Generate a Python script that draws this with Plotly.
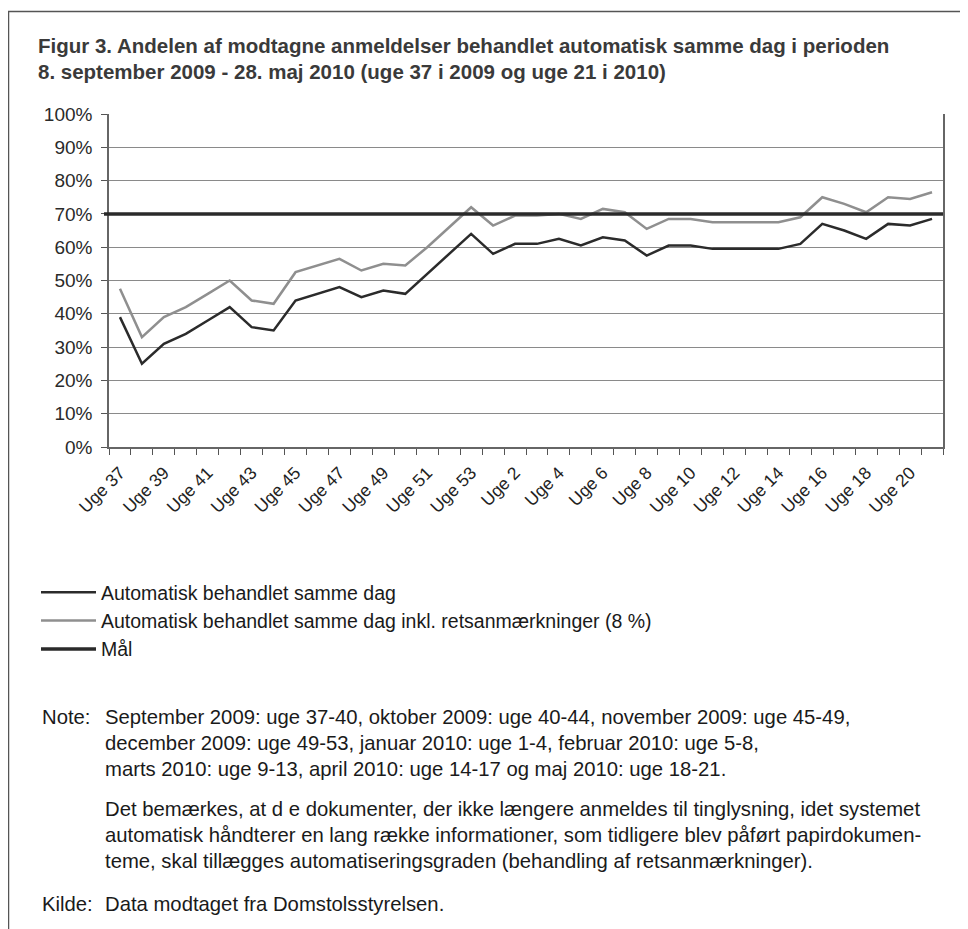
import plotly.graph_objects as go

# ---------------- data ----------------
weeks = ["Uge 37", "Uge 38", "Uge 39", "Uge 40", "Uge 41", "Uge 42", "Uge 43", "Uge 44",
         "Uge 45", "Uge 46", "Uge 47", "Uge 48", "Uge 49", "Uge 50", "Uge 51", "Uge 52",
         "Uge 53", "Uge 1", "Uge 2", "Uge 3", "Uge 4", "Uge 5", "Uge 6", "Uge 7",
         "Uge 8", "Uge 9", "Uge 10", "Uge 11", "Uge 12", "Uge 13", "Uge 14", "Uge 15",
         "Uge 16", "Uge 17", "Uge 18", "Uge 19", "Uge 20", "Uge 21"]

auto_same_day = [39, 25, 31, 34, 38, 42, 36, 35, 44, 46, 48, 45, 47, 46, 52, 58,
                 64, 58, 61, 61, 62.5, 60.5, 63, 62, 57.5, 60.5, 60.5, 59.5, 59.5, 59.5,
                 59.5, 61, 67, 65, 62.5, 67, 66.5, 68.5]

auto_incl_rets = [47.5, 33, 39, 42, 46, 50, 44, 43, 52.5, 54.5, 56.5, 53, 55, 54.5, 60, 66,
                  72, 66.5, 69.5, 69.5, 70, 68.5, 71.5, 70.5, 65.5, 68.5, 68.5, 67.5, 67.5, 67.5,
                  67.5, 69, 75, 73, 70.5, 75, 74.5, 76.5]

target = 70  # Mål

y_ticks = [0, 10, 20, 30, 40, 50, 60, 70, 80, 90, 100]
y_ticktext = [f"{v}%" for v in y_ticks]

title_lines = ["Figur 3. Andelen af modtagne anmeldelser behandlet automatisk samme dag i perioden",
               "8. september 2009 - 28. maj 2010 (uge 37 i 2009 og uge 21 i 2010)"]

note_lines = ["September 2009: uge 37-40, oktober 2009: uge 40-44, november 2009: uge 45-49,",
              "december 2009: uge 49-53, januar 2010: uge 1-4, februar 2010: uge 5-8,",
              "marts 2010: uge 9-13, april 2010: uge 14-17 og maj 2010: uge 18-21."]
note2_lines = ["Det bemærkes, at d e dokumenter, der ikke længere anmeldes til tinglysning, idet systemet",
               "automatisk håndterer en lang række informationer, som tidligere blev påført papirdokumen-",
               "teme, skal tillægges automatiseringsgraden (behandling af retsanmærkninger)."]
source_text = "Data modtaget fra Domstolsstyrelsen."

# ---------------- layout geometry ----------------
OFF = 8                      # page body margin of the html page
W, H = 968 - OFF, 929 - OFF
# plot area in page pixels
PL, PR, PT, PB = 109, 943, 114, 447
L, R, T, B = PL - OFF, PR - OFF, PT - OFF, PB - OFF


def px2x(page_px):
    return (page_px - OFF - L) / (R - L)


def py2y(page_py):
    return (B - (page_py - OFF)) / (B - T)


FONT = "Liberation Sans, Arial, sans-serif"
TXT = "#1a1a1a"
idx = list(range(len(weeks)))

fig = go.Figure()
fig.add_trace(go.Scatter(
    x=idx, y=auto_same_day, mode="lines", name="Automatisk behandlet samme dag",
    line=dict(color="#2b2b2b", width=2.5), legendrank=1))
fig.add_trace(go.Scatter(
    x=idx, y=auto_incl_rets, mode="lines",
    name="Automatisk behandlet samme dag inkl. retsanmærkninger (8 %)",
    line=dict(color="#8f8f8f", width=2.5), legendrank=2))

# target line across the full plot width
fig.add_shape(type="line", xref="paper", yref="y", x0=px2x(104), x1=1, y0=target, y1=target,
              line=dict(color="#2a2a2a", width=3.5), showlegend=True, name="Mål",
              legendrank=3)

# outer frame (left and top border)
fig.add_shape(type="path", xref="paper", yref="paper",
              path=(f"M {px2x(8.5)} {py2y(935)} L {px2x(8.5)} {py2y(11.5)} "
                    f"L {px2x(975)} {py2y(11.5)}"),
              line=dict(color="#555555", width=1.5), layer="above")

annotations = []
for i, line in enumerate(title_lines):
    annotations.append(dict(text=f"<b>{line}</b>", xref="paper", yref="paper",
                            x=px2x(36), y=py2y(46 + 26 * i), xanchor="left", yanchor="middle",
                            showarrow=False, font=dict(family=FONT, size=20.5, color="#3a3a3a")))


def text_ann(txt, px, py):
    return dict(text=txt, xref="paper", yref="paper", x=px2x(px), y=py2y(py),
                xanchor="left", yanchor="middle", showarrow=False,
                font=dict(family=FONT, size=20.3, color=TXT))


annotations.append(text_ann("Note:", 40, 717))
for i, line in enumerate(note_lines):
    annotations.append(text_ann(line, 103, 717 + 26 * i))
for i, line in enumerate(note2_lines):
    annotations.append(text_ann(line, 103, 809 + 26 * i))
annotations.append(text_ann("Kilde:", 40, 904))
annotations.append(text_ann(source_text, 103, 904))

fig.update_layout(
    width=W, height=H,
    margin=dict(l=L, r=W - R, t=T, b=H - B, pad=0),
    paper_bgcolor="white", plot_bgcolor="white",
    font=dict(family=FONT, color="#222"),
    showlegend=True,
    legend=dict(x=px2x(36), y=py2y(573), xanchor="left", yanchor="top",
                font=dict(family=FONT, size=19.5, color=TXT),
                bgcolor="rgba(0,0,0,0)", tracegroupgap=0, itemwidth=55,
                traceorder="normal"),
    annotations=annotations,
    xaxis=dict(
        range=[-0.5, len(weeks) - 0.5],
        tickvals=idx[::2], ticktext=weeks[::2],
        tickangle=-45, tickfont=dict(family=FONT, size=17.5, color="#222"),
        ticks="outside", ticklen=0, ticklabelstandoff=7,
        minor=dict(ticks="outside", ticklen=6, tick0=-0.5, dtick=1, tickcolor="#555",
                   showgrid=False),
        showgrid=False, zeroline=False,
        showline=True, linecolor="#666", linewidth=1.5,
    ),
    yaxis=dict(
        range=[0, 100], tickvals=y_ticks, ticktext=y_ticktext,
        tickfont=dict(family=FONT, size=19, color="#2a2a2a"),
        ticks="outside", ticklen=6, tickcolor="#555", ticklabelstandoff=5,
        showgrid=True, gridcolor="#8a8a8a", gridwidth=1,
        zeroline=False,
        showline=True, linecolor="#666", linewidth=1.5, mirror=True,
    ),
)

fig.write_html("out.html")
